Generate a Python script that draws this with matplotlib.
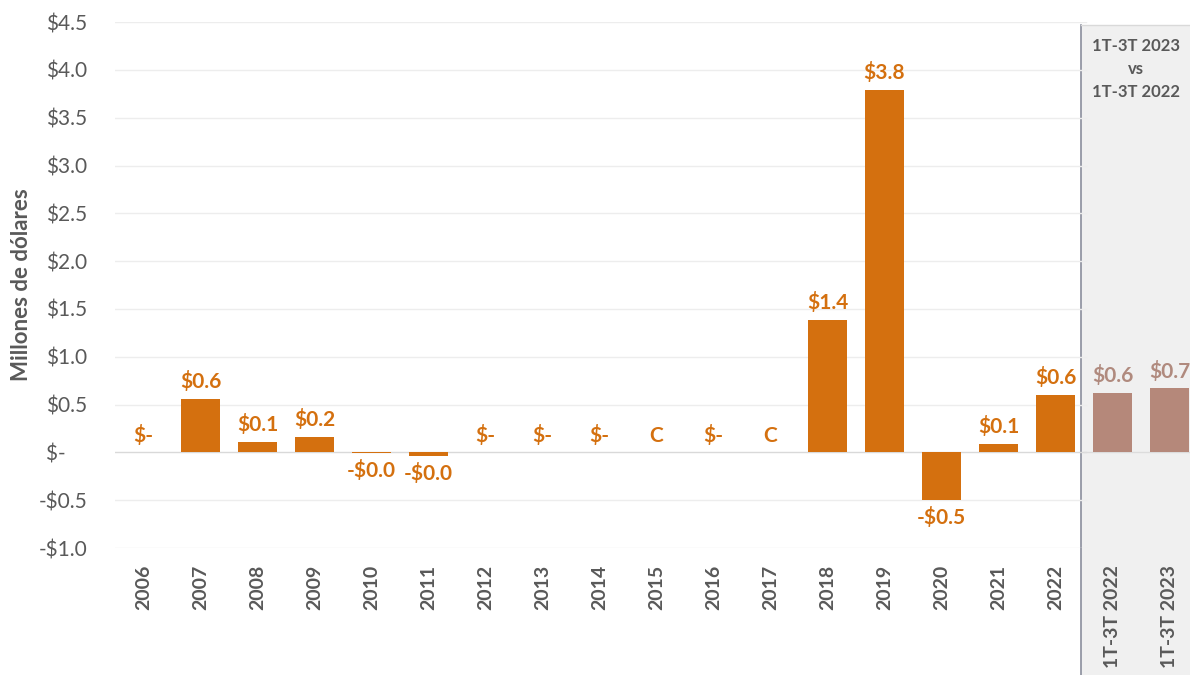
import matplotlib.pyplot as plt
from matplotlib.patches import Rectangle
from matplotlib.lines import Line2D

plt.rcParams['font.family'] = ['Lato', 'DejaVu Sans']

# Annual values (millions of dollars) and the Q1-Q3 comparison
years = ['2006', '2007', '2008', '2009', '2010', '2011', '2012', '2013', '2014',
         '2015', '2016', '2017', '2018', '2019', '2020', '2021', '2022']
year_values = [0.0, 0.56, 0.11, 0.16, -0.01, -0.04, 0.0, 0.0, 0.0,
               0.0, 0.0, 0.0, 1.39, 3.79, -0.5, 0.09, 0.6]
# 'C' = confidential (value withheld)
year_notes = ['', '', '', '', '', '', '', '', '',
              'C', '', 'C', '', '', '', '', '']

quarter_labels = ['1T-3T 2022', '1T-3T 2023']
quarter_values = [0.62, 0.67]

y_ticks = [-1.0, -0.5, 0.0, 0.5, 1.0, 1.5, 2.0, 2.5, 3.0, 3.5, 4.0, 4.5]

ORANGE = '#D4700F'
ROSE = '#B5887A'
ROSE_TEXT = '#B08A7E'
GRAY = '#595959'


def money(v):
    if v == 0:
        return '$-'
    sign = '-' if v < 0 else ''
    return f'{sign}${abs(v):.1f}'


def tick_money(v):
    if v == 0:
        return '$-    '
    sign = '-' if v < 0 else ''
    return f'{sign}${abs(v):.1f}'


fig = plt.figure(figsize=(11.9, 6.75), dpi=100)
ax = fig.add_axes([0.0966, 0.188, 0.9034, 0.7793])

# grey comparison panel behind the last two bars
panel_x = 1081 / 1190
fig.patches.append(Rectangle((panel_x, 0), 1 - panel_x, 0.963, transform=fig.transFigure,
                             facecolor='#F0F0F0', edgecolor='none', zorder=-2))
fig.lines.append(Line2D([panel_x, panel_x], [0, 0.963], transform=fig.transFigure,
                        color='#8A8E9C', linewidth=1.2, zorder=-1))
fig.lines.append(Line2D([panel_x, 1], [0.963, 0.963], transform=fig.transFigure,
                        color='#D9D9D9', linewidth=1.0, zorder=-1))
fig.text((panel_x + 1) / 2, 0.944, '1T-3T 2023\nvs\n1T-3T 2022', ha='center', va='top',
         fontsize=12, fontweight='bold', color=GRAY, linespacing=1.55)

ax.set_facecolor('none')
n_years = len(years)
x_years = list(range(n_years))
x_quarters = [n_years + i for i in range(len(quarter_values))]

# gridlines on the white part only
for t in y_ticks:
    ax.plot([-0.5, n_years - 0.5 + 0.04], [t, t], color='#D9D9D9' if t == 0 else '#EDEDED',
            linewidth=1.0, zorder=1)
ax.plot([n_years - 0.5, 18.36], [0, 0], color='#DCDCDC', linewidth=1.0, zorder=1)

ax.bar(x_years, year_values, width=0.67, color=ORANGE, zorder=2)
ax.bar(x_quarters, quarter_values, width=0.67, color=ROSE, zorder=2)

off = 0.07
for x, v, note in zip(x_years, year_values, year_notes):
    text = note if note else money(v)
    if v < 0:
        ax.text(x, v - off, text, ha='center', va='top', fontsize=15,
                fontweight='bold', color=ORANGE)
    else:
        ax.text(x, v + off, text, ha='center', va='bottom', fontsize=15,
                fontweight='bold', color=ORANGE)
for x, v in zip(x_quarters, quarter_values):
    ax.text(x, v + off, money(v), ha='center', va='bottom', fontsize=15,
            fontweight='bold', color=ROSE_TEXT)

ax.set_xlim(-0.5, 18.36)
ax.set_ylim(-1.0, 4.5)
ax.set_yticks(y_ticks)
ax.set_yticklabels([tick_money(t) for t in y_ticks], fontsize=15, color=GRAY)
ax.set_xticks(x_years + x_quarters)
ax.set_xticklabels(years + quarter_labels, rotation=90, fontsize=14,
                   fontweight='bold', color=GRAY)
ax.tick_params(length=0)
ax.tick_params(axis='y', pad=20)
ax.tick_params(axis='x', pad=12)
for s in ax.spines.values():
    s.set_visible(False)

ax.set_ylabel('Millones de dólares', fontsize=16, fontweight='bold', color=GRAY)
ax.yaxis.set_label_coords(-0.077, 0.5)

fig.savefig('out.png', dpi=100)
